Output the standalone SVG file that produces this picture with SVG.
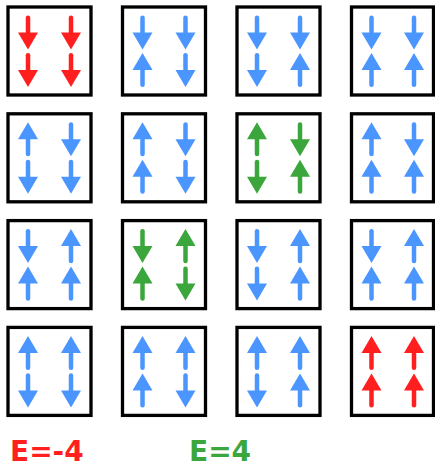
<svg xmlns="http://www.w3.org/2000/svg" xmlns:xlink="http://www.w3.org/1999/xlink" width="435" height="468" viewBox="0 0 435 468">
<style>
.box{fill:#fff;stroke:#000;stroke-width:3.3}
.b{color:#4b95ff}
.r{color:#ff1f1f}
.g{color:#3ba63b}
.lbl{font-family:"DejaVu Sans","Liberation Sans",sans-serif;font-weight:bold;font-size:28px}
</style>
<defs>
<g id="dn">
<line x1="0" y1="-14.8" x2="0" y2="1" stroke="currentColor" stroke-width="4.5" stroke-linecap="round"/>
<polygon points="-10,0 10,0 0,17" fill="currentColor"/>
</g>
<g id="up">
<line x1="0" y1="14.8" x2="0" y2="-1" stroke="currentColor" stroke-width="4.5" stroke-linecap="round"/>
<polygon points="-10,0 10,0 0,-17" fill="currentColor"/>
</g>
</defs>
<rect width="435" height="468" fill="#fff"/>

<!-- Row 1 -->
<g id="s1" class="r">
<rect class="box" x="8" y="7" width="83" height="88"/>
<use href="#dn" x="28" y="32.5"/><use href="#dn" x="28" y="70"/>
<use href="#dn" x="71" y="32.5"/><use href="#dn" x="71" y="70"/>
</g>
<g id="s2" class="b">
<rect class="box" x="122.5" y="7" width="83" height="88"/>
<use href="#dn" x="142.5" y="32.5"/><use href="#up" x="142.5" y="70"/>
<use href="#dn" x="185.5" y="32.5"/><use href="#dn" x="185.5" y="70"/>
</g>
<g id="s3" class="b">
<rect class="box" x="237" y="7" width="83" height="88"/>
<use href="#dn" x="257" y="32.5"/><use href="#dn" x="257" y="70"/>
<use href="#dn" x="300" y="32.5"/><use href="#up" x="300" y="70"/>
</g>
<g id="s4" class="b">
<rect class="box" x="351.5" y="7" width="82" height="88"/>
<use href="#dn" x="371.5" y="32.5"/><use href="#up" x="371.5" y="70"/>
<use href="#dn" x="414" y="32.5"/><use href="#up" x="414" y="70"/>
</g>

<!-- Row 2 -->
<g id="s5" class="b">
<rect class="box" x="8" y="113.8" width="83" height="88"/>
<use href="#up" x="28" y="139.3"/><use href="#dn" x="28" y="176.8"/>
<use href="#dn" x="71" y="139.3"/><use href="#dn" x="71" y="176.8"/>
</g>
<g id="s6" class="b">
<rect class="box" x="122.5" y="113.8" width="83" height="88"/>
<use href="#up" x="142.5" y="139.3"/><use href="#up" x="142.5" y="176.8"/>
<use href="#dn" x="185.5" y="139.3"/><use href="#dn" x="185.5" y="176.8"/>
</g>
<g id="s7" class="g">
<rect class="box" x="237" y="113.8" width="83" height="88"/>
<use href="#up" x="257" y="139.3"/><use href="#dn" x="257" y="176.8"/>
<use href="#dn" x="300" y="139.3"/><use href="#up" x="300" y="176.8"/>
</g>
<g id="s8" class="b">
<rect class="box" x="351.5" y="113.8" width="82" height="88"/>
<use href="#up" x="371.5" y="139.3"/><use href="#up" x="371.5" y="176.8"/>
<use href="#dn" x="414" y="139.3"/><use href="#up" x="414" y="176.8"/>
</g>

<!-- Row 3 -->
<g id="s9" class="b">
<rect class="box" x="8" y="220.6" width="83" height="88"/>
<use href="#dn" x="28" y="246.1"/><use href="#up" x="28" y="283.6"/>
<use href="#up" x="71" y="246.1"/><use href="#up" x="71" y="283.6"/>
</g>
<g id="s10" class="g">
<rect class="box" x="122.5" y="220.6" width="83" height="88"/>
<use href="#dn" x="142.5" y="246.1"/><use href="#up" x="142.5" y="283.6"/>
<use href="#up" x="185.5" y="246.1"/><use href="#dn" x="185.5" y="283.6"/>
</g>
<g id="s11" class="b">
<rect class="box" x="237" y="220.6" width="83" height="88"/>
<use href="#dn" x="257" y="246.1"/><use href="#dn" x="257" y="283.6"/>
<use href="#up" x="300" y="246.1"/><use href="#up" x="300" y="283.6"/>
</g>
<g id="s12" class="b">
<rect class="box" x="351.5" y="220.6" width="82" height="88"/>
<use href="#dn" x="371.5" y="246.1"/><use href="#up" x="371.5" y="283.6"/>
<use href="#up" x="414" y="246.1"/><use href="#up" x="414" y="283.6"/>
</g>

<!-- Row 4 -->
<g id="s13" class="b">
<rect class="box" x="8" y="327.4" width="83" height="88"/>
<use href="#up" x="28" y="352.9"/><use href="#dn" x="28" y="390.4"/>
<use href="#up" x="71" y="352.9"/><use href="#dn" x="71" y="390.4"/>
</g>
<g id="s14" class="b">
<rect class="box" x="122.5" y="327.4" width="83" height="88"/>
<use href="#up" x="142.5" y="352.9"/><use href="#up" x="142.5" y="390.4"/>
<use href="#up" x="185.5" y="352.9"/><use href="#dn" x="185.5" y="390.4"/>
</g>
<g id="s15" class="b">
<rect class="box" x="237" y="327.4" width="83" height="88"/>
<use href="#up" x="257" y="352.9"/><use href="#dn" x="257" y="390.4"/>
<use href="#up" x="300" y="352.9"/><use href="#up" x="300" y="390.4"/>
</g>
<g id="s16" class="r">
<rect class="box" x="351.5" y="327.4" width="82" height="88"/>
<use href="#up" x="371.5" y="352.9"/><use href="#up" x="371.5" y="390.4"/>
<use href="#up" x="414" y="352.9"/><use href="#up" x="414" y="390.4"/>
</g>

<g id="labels">
<text class="lbl" x="10" y="461" fill="#ff1f1f">E=-4</text>
<text class="lbl" x="189" y="461" fill="#3ba63b">E=4</text>
</g>
</svg>
